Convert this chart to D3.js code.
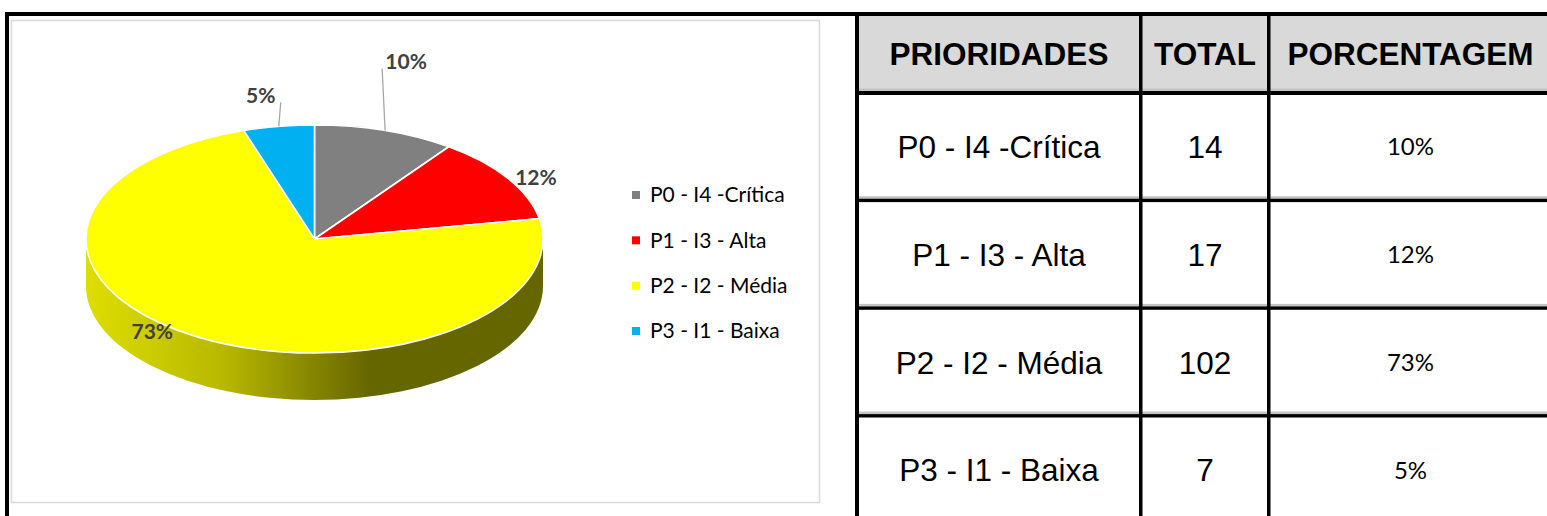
<!DOCTYPE html>
<html><head><meta charset="utf-8">
<script src="https://cdn.jsdelivr.net/npm/d3@7"></script>
<style>html,body{margin:0;padding:0;background:#fff;overflow:hidden}</style>
</head><body>
<svg id="c" width="1547" height="516"></svg>
<script>
// ---- data ----
const categories = ["P0 - I4 -Crítica", "P1 - I3 - Alta", "P2 - I2 - Média", "P3 - I1 - Baixa"];
const totals = [14, 17, 102, 7];
const sliceColors = ["#808080", "#ff0000", "#ffff00", "#00b0f0"];
const headers = ["PRIORIDADES", "TOTAL", "PORCENTAGEM"];

// ---- layout ----
const W = 1547, H = 516;
const svg = d3.select("#c");
const pct = d3.format(".0%");
const sum = d3.sum(totals);

// outer black frame lines
svg.append("rect").attr("x", 5).attr("y", 12).attr("width", W).attr("height", 4).attr("fill", "#000");
svg.append("rect").attr("x", 5).attr("y", 12).attr("width", 4).attr("height", H).attr("fill", "#000");

// chart frame
svg.append("rect").attr("x", 11.5).attr("y", 20.5).attr("width", 808).attr("height", 482)
  .attr("fill", "#fff").attr("stroke", "#d9d9d9").attr("stroke-width", 1.5);

// ---- 3D pie ----
const cx = 314.5, cy = 239, rx = 228.5, ry = 114, depth = 47;
const pt = (a, dy = 0) => [cx + rx * Math.sin(a), cy - ry * Math.cos(a) + dy];
const arcs = d3.pie().sort(null).value(d => d)(totals);

const defs = svg.append("defs");
const g = defs.append("linearGradient").attr("id", "side").attr("gradientUnits", "userSpaceOnUse")
  .attr("x1", cx - rx).attr("x2", cx + rx).attr("y1", 0).attr("y2", 0);
g.append("stop").attr("offset", "0").attr("stop-color", "#dede00");
g.append("stop").attr("offset", "0.3").attr("stop-color", "#b8b800");
g.append("stop").attr("offset", "0.62").attr("stop-color", "#666600");
g.append("stop").attr("offset", "1").attr("stop-color", "#666600");

const pie = svg.append("g");
// side walls (front half: angles between PI/2 and 3PI/2)
arcs.forEach((d, i) => {
  const b0 = Math.max(d.startAngle, Math.PI / 2), b1 = Math.min(d.endAngle, 3 * Math.PI / 2);
  if (b1 <= b0) return;
  const p0 = pt(b0), p1 = pt(b1), q1 = pt(b1, depth), q0 = pt(b0, depth);
  const large = (b1 - b0) > Math.PI ? 1 : 0;
  const path = `M${p0}A${rx},${ry} 0 ${large} 1 ${p1}L${q1}A${rx},${ry} 0 ${large} 0 ${q0}Z`;
  pie.append("path").attr("d", path).attr("fill", sliceColors[i] === "#ffff00" ? "url(#side)" : d3.color(sliceColors[i]).darker(1));
});
// top faces
arcs.forEach((d, i) => {
  const p0 = pt(d.startAngle), p1 = pt(d.endAngle);
  const large = (d.endAngle - d.startAngle) > Math.PI ? 1 : 0;
  pie.append("path")
    .attr("d", `M${cx},${cy}L${p0}A${rx},${ry} 0 ${large} 1 ${p1}Z`)
    .attr("fill", sliceColors[i]).attr("stroke", "#fff").attr("stroke-width", 1.6)
    .attr("stroke-linejoin", "round");
});

// data labels
const labelOffsets = [[21, -69], [28, -1], [-45, -5], [-18, -31]];
const leaders = [true, false, false, true];
arcs.forEach((d, i) => {
  const mid = (d.startAngle + d.endAngle) / 2;
  const e = pt(mid);
  const lx = e[0] + labelOffsets[i][0], ly = e[1] + labelOffsets[i][1];
  if (leaders[i]) {
    const ex = i === 0 ? lx - 24 : lx + 20;
    svg.append("line").attr("x1", e[0]).attr("y1", e[1]).attr("x2", ex).attr("y2", ly + 7)
      .attr("stroke", "#a6a6a6").attr("stroke-width", 1.3);
  }
  svg.append("text").attr("x", lx).attr("y", ly).attr("text-anchor", "middle").attr("dy", "0.35em")
    .attr("font-family", "Lato").attr("font-weight", "bold").attr("font-size", 21)
    .attr("fill", "#404040").text(pct(d.value / sum));
});

// legend
const ly = d3.scalePoint().domain(categories).range([195, 331]);
const leg = svg.append("g");
categories.forEach((c, i) => {
  leg.append("rect").attr("x", 632).attr("y", ly(c) - 4).attr("width", 8).attr("height", 8).attr("fill", sliceColors[i]);
  leg.append("text").attr("x", 650).attr("y", ly(c)).attr("dy", "0.35em")
    .attr("font-family", "Lato").attr("font-size", 21).attr("fill", "#000").text(c);
});

// ---- table ----
const colEdges = [857, 1141, 1269, 1552];
const rowY = d3.scaleBand().domain(categories).range([93, 93 + 4 * 107.7]);
const t = svg.append("g");
// header background
t.append("rect").attr("x", 859).attr("y", 16).attr("width", W).attr("height", 76).attr("fill", "#d9d9d9");
// header texts
headers.forEach((h, j) => {
  t.append("text").attr("x", (colEdges[j] + colEdges[j + 1]) / 2).attr("y", 53.5).attr("dy", "0.36em")
    .attr("text-anchor", "middle").attr("font-family", "Liberation Sans, Arial").attr("font-weight", "bold")
    .attr("font-size", 31.5).attr("fill", "#000").text(h);
});
// row lines
const lineYs = [93].concat(categories.map(c => rowY(c) + rowY.bandwidth()));
lineYs.forEach((y, k) => {
  t.append("rect").attr("x", 859).attr("y", y - 4.5).attr("width", W).attr("height", 2.5).attr("fill", "#c4c4c4");
  t.append("rect").attr("x", 857).attr("y", y - 2).attr("width", W).attr("height", k === 0 ? 4 : 3.4).attr("fill", "#000");
});
// vertical lines
colEdges.slice(0, 3).forEach((x, j) => {
  t.append("rect").attr("x", x - 2).attr("y", 12).attr("width", j === 0 ? 4 : 3.5).attr("height", H).attr("fill", "#000");
});
// cells
categories.forEach((c, i) => {
  const y = rowY(c) + rowY.bandwidth() / 2;
  t.append("text").attr("x", (colEdges[0] + colEdges[1]) / 2).attr("y", y).attr("dy", "0.36em")
    .attr("text-anchor", "middle").attr("font-family", "Liberation Sans, Arial").attr("font-size", 31.5).text(c);
  t.append("text").attr("x", (colEdges[1] + colEdges[2]) / 2).attr("y", y).attr("dy", "0.36em")
    .attr("text-anchor", "middle").attr("font-family", "Liberation Sans, Arial").attr("font-size", 31.5).text(totals[i]);
  t.append("text").attr("x", (colEdges[2] + colEdges[3]) / 2).attr("y", y).attr("dy", "0.36em")
    .attr("text-anchor", "middle").attr("font-family", "Lato").attr("font-size", 24).text(pct(totals[i] / sum));
});
</script>
</body></html>
